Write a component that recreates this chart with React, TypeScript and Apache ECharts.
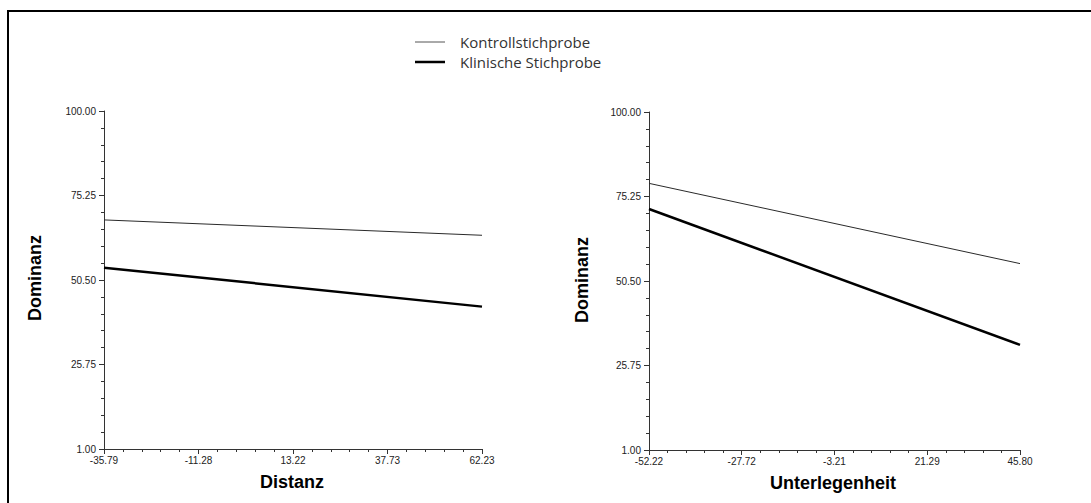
import React, { useEffect, useRef } from "react";
import * as echarts from "echarts";

// ---- data ----
const seriesNames = ["Kontrollstichprobe", "Klinische Stichprobe"];

const distanzX = [-35.79, 62.23];
const kontrollDistanz = [68.1, 63.6];
const klinischDistanz = [54.1, 42.7];

const unterlegenheitX = [-52.22, 45.8];
const kontrollUnter = [79.1, 55.6];
const klinischUnter = [71.6, 31.8];

const distanzTicks = [-35.79, -11.28, 13.22, 37.73, 62.23];
const unterTicks = [-52.22, -27.72, -3.21, 21.29, 45.8];
const yTicks = [1.0, 25.75, 50.5, 75.25, 100.0];

const xNames = ["Distanz", "Unterlegenheit"];
const yName = "Dominanz";

function minors(major: number[], n: number) {
  const out: number[] = [];
  for (let i = 0; i < major.length - 1; i++) {
    for (let k = 1; k < n; k++) out.push(major[i] + ((major[i + 1] - major[i]) * k) / n);
  }
  return out;
}

const FONT = "'Liberation Sans', Arial, sans-serif";
const LEGEND_FONT = "'Open Sans', sans-serif";
const AXIS_COLOR = "#333";
const THIN_COLOR = "#2a2a2a";

export default function App() {
  const ref = useRef<HTMLDivElement>(null);
  useEffect(() => {
    document.body.style.margin = "0";
    const chart = echarts.init(ref.current!, null, { renderer: "svg" });

    const grids = [
      { left: 104, top: 111, width: 378, height: 338 },
      { left: 649, top: 112, width: 371, height: 338 },
    ];
    const xTickSets = [distanzTicks, unterTicks];

    const xAxes: any[] = [];
    const yAxes: any[] = [];
    [0, 1].forEach((g) => {
      const t = xTickSets[g];
      xAxes.push({
        type: "value",
        gridIndex: g,
        position: "bottom",
        min: t[0],
        max: t[t.length - 1],
        axisLine: { show: true, onZero: false, lineStyle: { color: AXIS_COLOR, width: 1 } },
        axisTick: { show: true, customValues: t, length: 5, lineStyle: { color: AXIS_COLOR } },
        axisLabel: {
          show: true,
          customValues: t,
          formatter: (v: number) => v.toFixed(2),
          fontSize: 10,
          fontFamily: FONT,
          color: "#222",
          margin: 6,
        },
        splitLine: { show: false },
      });
      xAxes.push({
        type: "value",
        gridIndex: g,
        position: "bottom",
        min: t[0],
        max: t[t.length - 1],
        axisLine: { show: false, onZero: false },
        axisTick: { show: true, customValues: minors(t, 5), length: 3, lineStyle: { color: AXIS_COLOR } },
        axisLabel: { show: false },
        splitLine: { show: false },
      });
      yAxes.push({
        type: "value",
        gridIndex: g,
        position: "left",
        min: yTicks[0],
        max: yTicks[yTicks.length - 1],
        axisLine: { show: true, onZero: false, lineStyle: { color: AXIS_COLOR, width: 1 } },
        axisTick: { show: true, customValues: yTicks, length: 5, lineStyle: { color: AXIS_COLOR } },
        axisLabel: {
          show: true,
          customValues: yTicks,
          formatter: (v: number) => v.toFixed(2),
          fontSize: 10,
          fontFamily: FONT,
          color: "#222",
          margin: 8,
        },
        splitLine: { show: false },
      });
      yAxes.push({
        type: "value",
        gridIndex: g,
        position: "left",
        min: yTicks[0],
        max: yTicks[yTicks.length - 1],
        axisLine: { show: false, onZero: false },
        axisTick: { show: true, customValues: minors(yTicks, 5), length: 3, lineStyle: { color: AXIS_COLOR } },
        axisLabel: { show: false },
        splitLine: { show: false },
      });
    });

    const mk = (name: string, xs: number[], ys: number[], g: number, thick: boolean) => ({
      type: "line",
      name,
      xAxisIndex: g * 2,
      yAxisIndex: g * 2,
      data: xs.map((x, i) => [x, ys[i]]),
      symbol: "none",
      lineStyle: { color: thick ? "#000" : THIN_COLOR, width: thick ? 2.5 : 1 },
      itemStyle: { color: thick ? "#000" : THIN_COLOR },
    });

    const legendRows = [
      { y: 42, color: "#555", width: 1 },
      { y: 62, color: "#000", width: 2.5 },
    ];

    const option: any = {
      animation: false,
      backgroundColor: "#fff",
      grid: grids,
      xAxis: xAxes,
      yAxis: yAxes,
      series: [
        mk(seriesNames[0], distanzX, kontrollDistanz, 0, false),
        mk(seriesNames[1], distanzX, klinischDistanz, 0, true),
        mk(seriesNames[0], unterlegenheitX, kontrollUnter, 1, false),
        mk(seriesNames[1], unterlegenheitX, klinischUnter, 1, true),
      ],
      graphic: [
        {
          type: "rect",
          shape: { x: 8, y: 11, width: 1200, height: 700 },
          style: { fill: "none", stroke: "#000", lineWidth: 2 },
          silent: true,
        },
        ...legendRows.flatMap((r, i) => [
          {
            type: "line",
            shape: { x1: 415, y1: r.y, x2: 445, y2: r.y },
            style: { stroke: r.color, lineWidth: r.width },
          },
          {
            type: "text",
            x: 460,
            y: r.y,
            style: {
              text: seriesNames[i],
              font: `15px ${LEGEND_FONT}`,
              fill: "#333",
              align: "left",
              verticalAlign: "middle",
            },
          },
        ]),
        {
          type: "text",
          x: 35,
          y: 278,
          rotation: Math.PI / 2,
          style: { text: yName, font: `bold 18px ${FONT}`, fill: "#000", align: "center", verticalAlign: "middle" },
        },
        {
          type: "text",
          x: 582,
          y: 280,
          rotation: Math.PI / 2,
          style: { text: yName, font: `bold 18px ${FONT}`, fill: "#000", align: "center", verticalAlign: "middle" },
        },
        {
          type: "text",
          x: 292,
          y: 482,
          style: { text: xNames[0], font: `bold 18px ${FONT}`, fill: "#000", align: "center", verticalAlign: "middle" },
        },
        {
          type: "text",
          x: 833,
          y: 483,
          style: { text: xNames[1], font: `bold 18px ${FONT}`, fill: "#000", align: "center", verticalAlign: "middle" },
        },
      ],
    };
    chart.setOption(option);
    return () => chart.dispose();
  }, []);
  return <div ref={ref} style={{ width: 1091, height: 503 }} />;
}
